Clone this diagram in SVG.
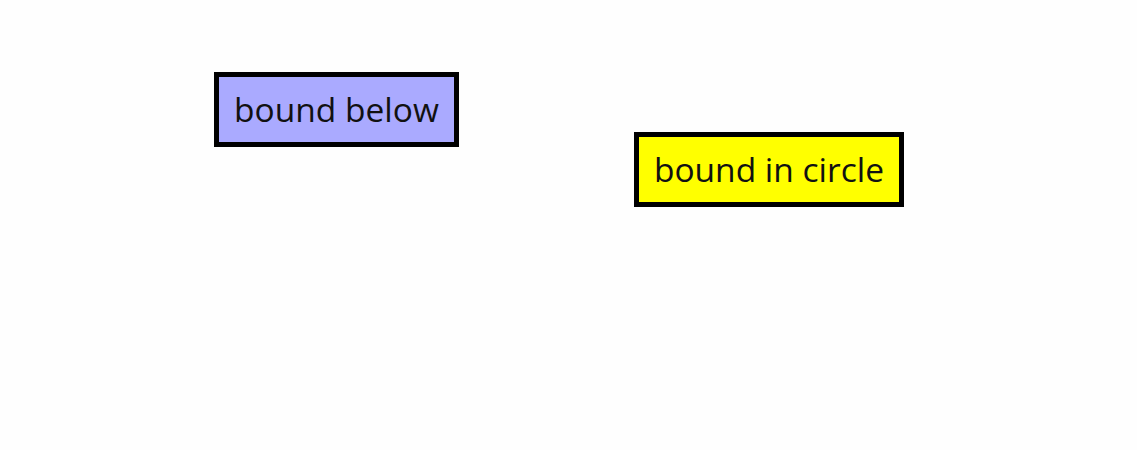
<svg xmlns="http://www.w3.org/2000/svg" width="1137" height="450" viewBox="0 0 1137 450">
<style>
.box{stroke:#000;stroke-width:5}
.lbl{font-family:"Open Sans","Noto Sans","DejaVu Sans",sans-serif;font-size:33.5px;fill:#111;text-anchor:middle}
</style>
<rect width="1137" height="450" fill="#fefefe"/>
<g id="bound-below">
<rect class="box" x="216.5" y="74.5" width="240" height="70" fill="#aaaaff"/>
<text class="lbl" x="336.5" y="122">bound below</text>
</g>
<g id="bound-in-circle">
<rect class="box" x="636.5" y="134.5" width="265" height="70" fill="#ffff00"/>
<text class="lbl" x="769" y="182">bound in circle</text>
</g>
<g id="connectors"/>
</svg>
